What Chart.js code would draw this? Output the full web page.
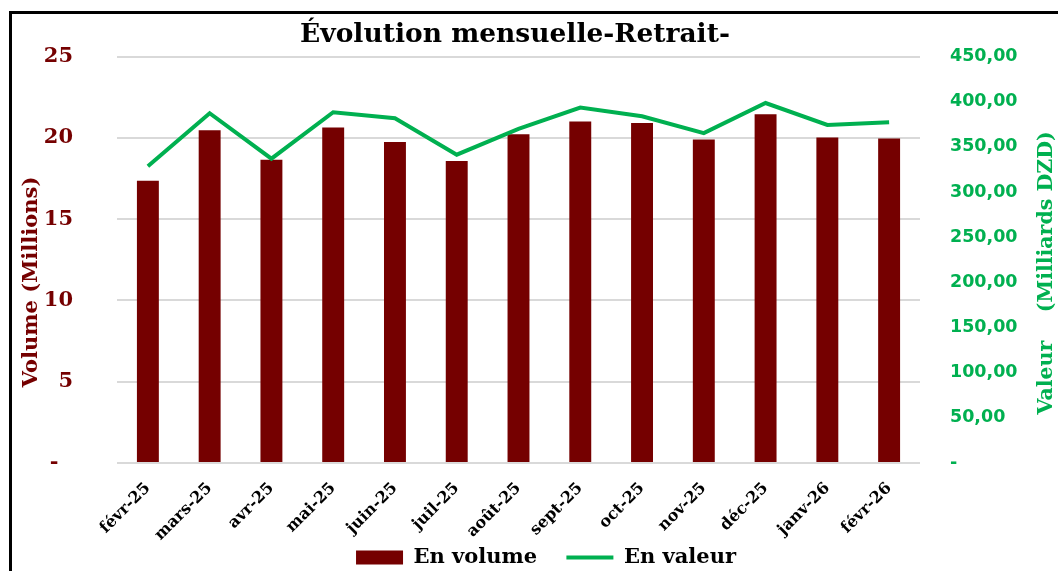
<!DOCTYPE html>
<html>
<head>
<meta charset="utf-8">
<script src="https://cdn.jsdelivr.net/npm/chart.js@4"></script>
<style>
  html, body { margin: 0; padding: 0; background: #fff; overflow: hidden; }
  #wrap { position: relative; width: 1058px; height: 571px; }
  #frame { position: absolute; left: 9px; top: 11px; width: 2000px; height: 2000px;
           border-left: 3px solid #000; border-top: 3px solid #000; box-sizing: border-box; }
  canvas { position: absolute; left: 0; top: 0; }
</style>
</head>
<body>
<div id="wrap">
  <div id="frame"></div>
  <canvas id="c" width="1058" height="571"></canvas>
</div>
<script>
const chartTitle = 'Évolution mensuelle-Retrait-';
const categories = ['févr-25','mars-25','avr-25','mai-25','juin-25','juil-25','août-25','sept-25','oct-25','nov-25','déc-25','janv-26','févr-26'];
const volumeMillions = [17.36, 20.47, 18.66, 20.64, 19.74, 18.58, 20.23, 21.0, 20.92, 19.9, 21.45, 20.03, 19.96];
const valeurMilliards = [328.6, 387.3, 337.0, 388.4, 381.8, 341.4, 370.0, 393.5, 384.0, 365.3, 398.6, 374.4, 377.4];
const leftTicks = [0, 5, 10, 15, 20, 25];
const rightTicks = [0, 50, 100, 150, 200, 250, 300, 350, 400, 450];

const SERIF = '"DejaVu Serif", serif';
const DARKRED = '#750000';
const GREEN = '#00B050';

const textDecor = {
  id: 'textDecor',
  afterDraw(chart) {
    const ctx = chart.ctx;
    ctx.save();
    ctx.font = 'bold 26.5px ' + SERIF;
    ctx.textAlign = 'center';
    ctx.textBaseline = 'middle';
    ctx.fillStyle = '#000';
    ctx.fillText(chartTitle, 515, 35);
    ctx.restore();
    ctx.save();
    ctx.font = 'bold 21px ' + SERIF;
    ctx.textAlign = 'center';
    ctx.textBaseline = 'middle';
    ctx.fillStyle = DARKRED;
    ctx.translate(32, 282);
    ctx.rotate(-Math.PI / 2);
    ctx.fillText('Volume (Millions)', 0, 0);
    ctx.restore();
    ctx.save();
    ctx.font = 'bold 20.5px ' + SERIF;
    ctx.textAlign = 'center';
    ctx.textBaseline = 'middle';
    ctx.fillStyle = GREEN;
    ctx.translate(1047, 273);
    ctx.rotate(-Math.PI / 2);
    ctx.fillText('Valeur    (Milliards DZD)', 0, 0);
    ctx.restore();
  }
};

new Chart(document.getElementById('c'), {
  data: {
    labels: categories,
    datasets: [
      {
        type: 'bar',
        label: 'En volume',
        data: volumeMillions,
        backgroundColor: DARKRED,
        borderWidth: 0,
        yAxisID: 'y',
        order: 1,
        categoryPercentage: 1,
        barPercentage: 0.355,
        pointStyle: 'rect'
      },
      {
        type: 'line',
        label: 'En valeur',
        data: valeurMilliards,
        borderColor: GREEN,
        backgroundColor: GREEN,
        borderWidth: 4,
        pointRadius: 0,
        tension: 0,
        yAxisID: 'y1',
        order: 0,
        pointStyle: 'line'
      }
    ]
  },
  options: {
    responsive: false,
    animation: false,
    layout: { padding: { left: 34, right: 0, top: 54, bottom: -7 } },
    plugins: {
      title: { display: false },
      legend: {
        position: 'bottom',
        labels: {
          usePointStyle: true,
          pointStyleWidth: 47,
          boxHeight: 14,
          padding: 0,
          color: '#000',
          font: { family: SERIF, size: 21, weight: 'bold' },
          sort: (a, b) => a.datasetIndex - b.datasetIndex,
          generateLabels(chart) {
            const items = Chart.defaults.plugins.legend.labels.generateLabels(chart);
            items.forEach(it => { if (it.datasetIndex === 0) it.text = it.text + '    '; });
            return items;
          }
        }
      },
      tooltip: { enabled: false }
    },
    scales: {
      x: {
        grid: { display: false, drawTicks: false },
        border: { display: false },
        ticks: {
          maxRotation: 45, minRotation: 45, autoSkip: false,
          padding: 16,
          color: '#000',
          font: { family: SERIF, size: 16, weight: 'bold' }
        },
        afterFit(s) { s.height = 84; }
      },
      y: {
        position: 'left',
        min: 0, max: 25,
        afterBuildTicks(s) { s.ticks = leftTicks.map(v => ({ value: v })); },
        grid: { color: '#d9d9d9', lineWidth: 2, drawTicks: false },
        border: { display: false },
        ticks: {
          padding: 44,
          color: DARKRED,
          font: { family: SERIF, size: 21, weight: 'bold' },
          callback: v => v === 0 ? '-  ' : String(v)
        },
        afterFit(s) { s.width = 83; }
      },
      y1: {
        position: 'right',
        min: 0, max: 450,
        afterBuildTicks(s) { s.ticks = rightTicks.map(v => ({ value: v })); },
        grid: { drawOnChartArea: false, drawTicks: false },
        border: { display: false },
        ticks: {
          padding: 30,
          color: GREEN,
          font: { family: '"DejaVu Sans", sans-serif', size: 17.5, weight: 'bold' },
          callback: v => v === 0 ? '-' : v.toFixed(2).replace('.', ',')
        },
        afterFit(s) { s.width = 138; }
      }
    }
  },
  plugins: [textDecor]
});
</script>
</body>
</html>
